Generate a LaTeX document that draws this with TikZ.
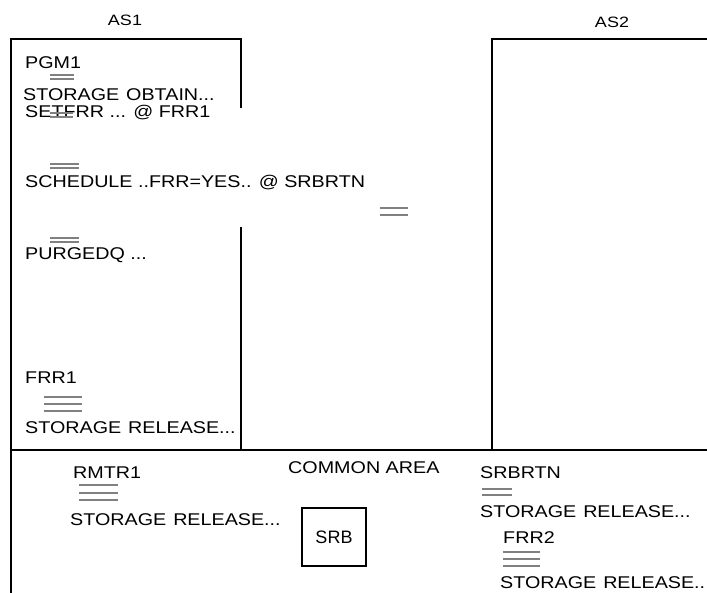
\documentclass[tikz,border=0pt]{standalone}
\usepackage{fontspec}
\setmainfont{Liberation Sans}
\usetikzlibrary{positioning}

\tikzset{
  frame/.style={line width=2.2pt},
  lbl/.style={anchor=west, inner sep=0pt, font=\fontsize{17}{19}\selectfont, xscale=1.16, transform shape},
  hdr/.style={inner sep=0pt, font=\fontsize{15}{17}\selectfont, xscale=1.2, transform shape},
  bar/.style={gray, line width=1.2pt}
}

\begin{document}
\begin{tikzpicture}[x=1pt, y=-1pt]
  \useasboundingbox (0,0) rectangle (707,593);
  % frames of AS1, AS2 and the common area
  \coordinate (a1bl) at (11,593);
  \coordinate (a1tl) at (11,39);
  \coordinate (a1tr) at (241,39);
  \coordinate (a1gap1) at (241,108);
  \coordinate (a1gap2) at (241,227);
  \coordinate (a1br) at (241,450);
  \coordinate (a2bl) at (492,450);
  \coordinate (a2tl) at (492,39);
  \coordinate (a2tr) at (707,39);
  \coordinate (cal) at (11,450);
  \coordinate (car) at (707,450);
  \draw[frame] (a1bl) -- (a1tl) -- (a1tr) -- (a1gap1);
  \draw[frame] (a1gap2) -- (a1br);
  \draw[frame] (a2bl) -- (a2tl) -- (a2tr);
  \draw[frame] (cal) -- (car);

  \node[hdr] (as1) at (125,20) {AS1};
  \node[hdr] (as2) at (612,22) {AS2};

  % AS1 program
  \node[lbl] (pgm) at (25,63) {PGM1};
  \node[lbl] (obtain) at (23,95) {STORAGE\hspace{6pt}OBTAIN...};
  \node[lbl] (seterr) at (25,113) {SETFRR ... @ FRR1};
  \node[lbl] (sched) at (25,183) {SCHEDULE ..FRR=YES.. @ SRBRTN};
  \node[lbl] (purge) at (25,255) {PURGEDQ ...};
  \node[lbl] (frr1) at (25,378) {FRR1};
  \node[lbl] (rel1) at (25,428) {STORAGE\hspace{6pt}RELEASE...};
  \foreach \y in {75,79} \draw[bar] (50,\y) -- (74,\y);
  \foreach \y in {113,117} \draw[bar] (50,\y) -- (73,\y);
  \foreach \y in {164,168} \draw[bar] (50,\y) -- (79,\y);
  \foreach \y in {238,242} \draw[bar] (50,\y) -- (79,\y);
  \foreach \y in {397,404,411} \draw[bar] (44,\y) -- (82,\y);
  \foreach \y in {208,215} \draw[bar] (380,\y) -- (408,\y);

  % common area
  \node[lbl] (rmtr) at (73,473) {RMTR1};
  \foreach \y in {485,493,500} \draw[bar] (79,\y) -- (118,\y);
  \node[lbl] (rel2) at (70,520) {STORAGE\hspace{6pt}RELEASE...};
  \node[lbl] (common) at (288,468) {COMMON AREA};
  \node[draw, line width=2.2pt, minimum width=64pt, minimum height=58pt,
        font=\fontsize{18}{20}\selectfont] (srb) at (334,537) {SRB};
  \node[lbl] (srbrtn) at (480,473) {SRBRTN};
  \foreach \y in {489,495} \draw[bar] (482,\y) -- (512,\y);
  \node[lbl] (rel3) at (480,512) {STORAGE\hspace{6pt}RELEASE...};
  \node[lbl] (frr2) at (503,538) {FRR2};
  \foreach \y in {552,559,566} \draw[bar] (503,\y) -- (540,\y);
  \node[lbl] (rel4) at (500,583) {STORAGE\hspace{6pt}RELEASE..};
\end{tikzpicture}
\end{document}
